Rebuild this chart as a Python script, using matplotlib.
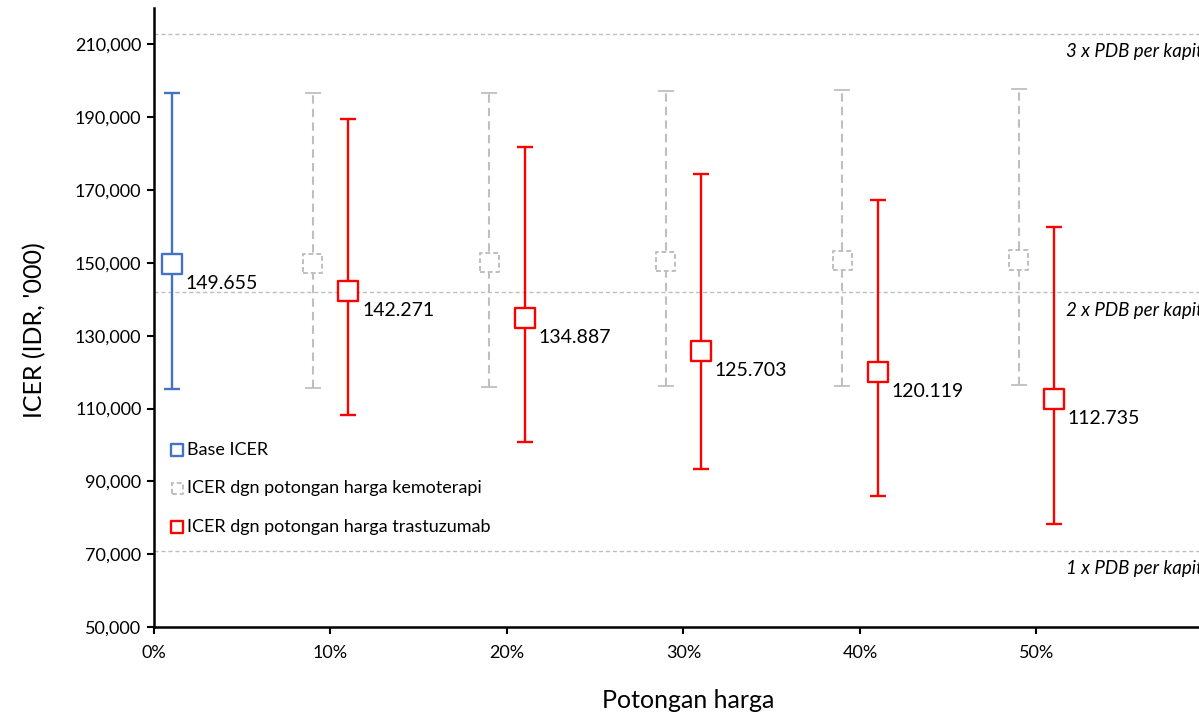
import matplotlib
matplotlib.use("Agg")
import matplotlib.pyplot as plt
from matplotlib.ticker import FuncFormatter, FixedLocator

plt.rcParams['font.family'] = ['Lato', 'DejaVu Sans']

# base case
base_x = [0.01]
base_icer = [149655]
base_low = [115500]
base_high = [196750]

# ICER with chemotherapy price cuts
chemo_x = [0.09, 0.19, 0.29, 0.39, 0.49]
chemo_icer = [149900, 150100, 150350, 150550, 150800]
chemo_low = [115750, 115900, 116200, 116250, 116500]
chemo_high = [196750, 196800, 197200, 197400, 197650]

# ICER with trastuzumab price cuts
tras_x = [0.11, 0.21, 0.31, 0.41, 0.51]
tras_icer = [142271, 134887, 125703, 120119, 112735]
tras_low = [108270, 100950, 93370, 85860, 78370]
tras_high = [189600, 181830, 174530, 167200, 159930]

# GDP per capita thresholds
pdb_values = [71000, 142000, 213000]
pdb_labels = ['1 x PDB per kapita', '2 x PDB per kapita', '3 x PDB per kapita']

x_ticks = [0.0, 0.1, 0.2, 0.3, 0.4, 0.5]
y_ticks = [50000, 70000, 90000, 110000, 130000, 150000, 170000, 190000, 210000]

BLUE = '#4472C4'
RED = '#FF0000'
GREY = '#BFBFBF'

fig = plt.figure(figsize=(11.99, 7.17), dpi=100)
ax = fig.add_axes([0.1284, 0.1255, 0.8832, 0.8633])
ax.set_xlim(0, 0.6)
ax.set_ylim(50000, 220000)

# threshold lines
for v, lab in zip(pdb_values, pdb_labels):
    ax.axhline(v, color=GREY, lw=1.0, ls=(0, (3, 2)), zorder=1)
    ax.annotate(lab, xy=(0.517, v), xytext=(0, -13), textcoords='offset points',
                ha='left', va='center', fontsize=13.5, style='italic', color='black')

def err(y, lo, hi):
    return [[a - b for a, b in zip(y, lo)], [c - a for a, c in zip(y, hi)]]

eb = ax.errorbar(chemo_x, chemo_icer, yerr=err(chemo_icer, chemo_low, chemo_high),
                 fmt='none', ecolor=GREY, elinewidth=1.5, capsize=5.5, capthick=1.3, zorder=2)
eb[2][0].set_linestyle((0, (4, 2.5)))
ax.errorbar(base_x, base_icer, yerr=err(base_icer, base_low, base_high),
            fmt='none', ecolor=BLUE, elinewidth=1.7, capsize=5.5, capthick=1.7, zorder=2)
ax.errorbar(tras_x, tras_icer, yerr=err(tras_icer, tras_low, tras_high),
            fmt='none', ecolor=RED, elinewidth=1.7, capsize=5.5, capthick=1.7, zorder=2)

ax.scatter(base_x, base_icer, s=190, marker='s', facecolors='white', edgecolors=BLUE,
           linewidths=1.7, zorder=3, label='Base ICER')
ax.scatter(chemo_x, chemo_icer, s=190, marker='s', facecolors='white', edgecolors=GREY,
           linewidths=1.4, linestyles=(0, (2.5, 1.5)), zorder=3,
           label='ICER dgn potongan harga kemoterapi')
ax.scatter(tras_x, tras_icer, s=190, marker='s', facecolors='white', edgecolors=RED,
           linewidths=1.7, zorder=3, label='ICER dgn potongan harga trastuzumab')

# value labels
for x, y in zip(base_x + tras_x, base_icer + tras_icer):
    ax.annotate(f'{y:,.0f}'.replace(',', '.'), xy=(x, y), xytext=(10, -14),
                textcoords='offset points', ha='left', va='center', fontsize=14)

ax.xaxis.set_major_locator(FixedLocator(x_ticks))
ax.yaxis.set_major_locator(FixedLocator(y_ticks))
ax.xaxis.set_major_formatter(FuncFormatter(lambda v, p: f'{v * 100:.0f}%'))
ax.yaxis.set_major_formatter(FuncFormatter(lambda v, p: f'{v:,.0f}'))
ax.tick_params(axis='both', labelsize=13, length=5, width=1.5, direction='out')
ax.tick_params(axis='x', pad=8)
ax.tick_params(axis='y', pad=4)

for side in ['top', 'right']:
    ax.spines[side].set_visible(False)
for side in ['left', 'bottom']:
    ax.spines[side].set_linewidth(1.8)

leg = ax.legend(loc='upper left', bbox_to_anchor=(0.0, 0.323), frameon=False,
                fontsize=13, markerscale=0.6, handletextpad=0.05, labelspacing=1.25,
                handlelength=1.0, borderaxespad=0.4)

fig.text(35 / 1199, 1 - 330 / 717, "ICER (IDR, '000)", rotation=90, ha='center',
         va='center', fontsize=18)
fig.text(688 / 1199, 1 - 700 / 717, 'Potongan harga', ha='center', va='center',
         fontsize=18)

fig.savefig('out.png', dpi=100)
